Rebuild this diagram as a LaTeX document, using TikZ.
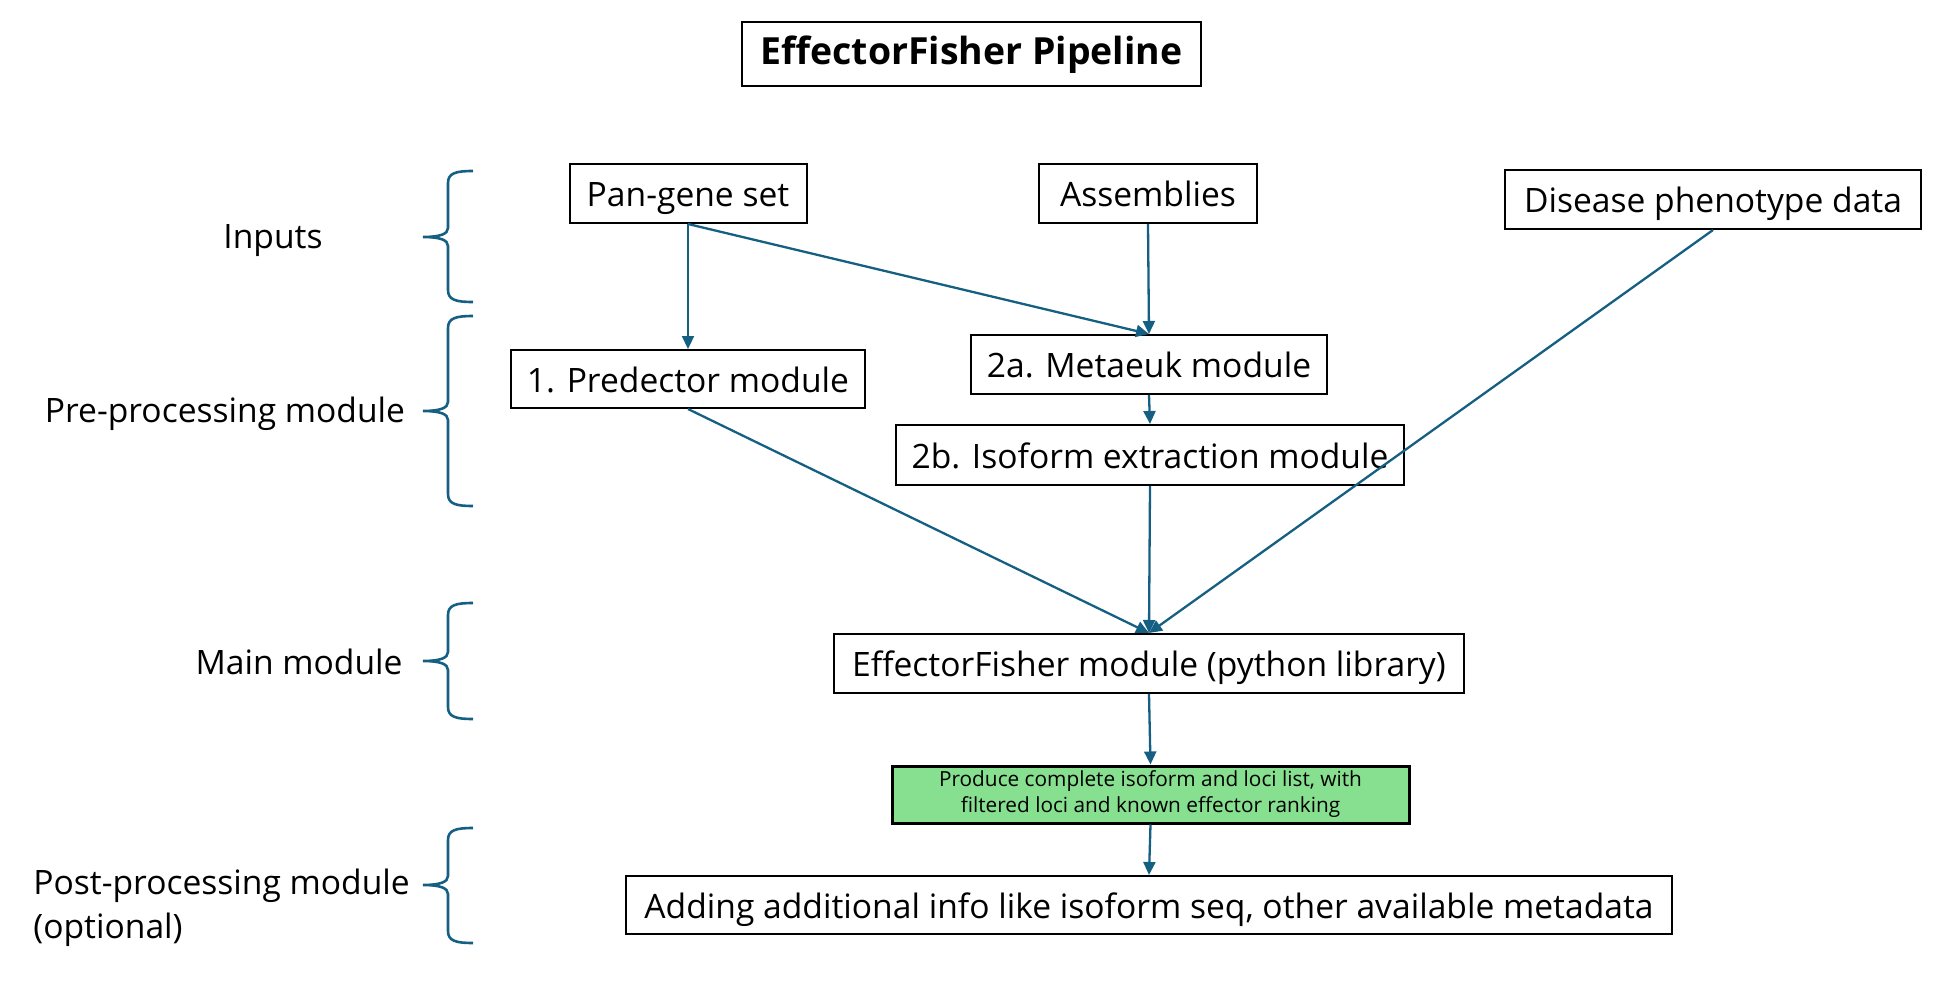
\documentclass[tikz,border=0pt]{standalone}
\usepackage{fontspec}
\setmainfont{Open Sans}
\usetikzlibrary{arrows.meta}
\definecolor{arrowblue}{RGB}{21,96,130}
\definecolor{greenfill}{RGB}{135,224,143}
\tikzset{
  box/.style={draw=black, line width=1pt, fill=white, inner sep=0pt, align=center, text height=14pt, text depth=1pt, font=\fontsize{16.8}{20}\selectfont},
  flow/.style={draw=arrowblue, line width=1.15pt, -{Triangle[length=6.5pt,width=6pt]}},
  bracepath/.style={draw=arrowblue, line width=1.3pt},
  sidelabel/.style={font=\fontsize{16.8}{22}\selectfont, inner sep=0pt}
}
\begin{document}
\begin{tikzpicture}[x=0.5pt,y=-0.5pt]
\useasboundingbox (0,0) rectangle (1945,1006);
% title
\node[box, font=\bfseries\fontsize{18.7}{22}\selectfont, text height=15pt, text depth=4pt, minimum width=229.5pt, minimum height=32pt] (title) at (971.5,54) {EffectorFisher Pipeline};
% boxes
\node[box, minimum width=118.5pt, minimum height=29.5pt] (pan) at (688,193.5) {Pan-gene set};
\node[box, minimum width=109pt, minimum height=29.5pt] (asm) at (1148,193.5) {Assemblies};
\node[box, minimum width=208pt, minimum height=29.5pt] (dis) at (1713,199.5) {Disease phenotype data};
\node[box, minimum width=177pt, minimum height=29pt] (pred) at (688,379) {1. Predector module};
\node[box, minimum width=178pt, minimum height=29.5pt] (meta) at (1149,364.5) {2a. Metaeuk module};
\node[box, minimum width=254pt, minimum height=30pt] (iso) at (1150,455) {2b. Isoform extraction module};
\node[box, minimum width=315pt, minimum height=29.5pt] (ef) at (1149,663.5) {EffectorFisher module (python library)};
\node[box, fill=greenfill, line width=1.5pt, minimum width=258.5pt, minimum height=28.5pt, text height=, text depth=, font=\fontsize{10.4}{13}\selectfont] (green) at (1150.5,794.5) {Produce complete isoform and loci list, with\\filtered loci and known effector ranking};
\node[box, minimum width=523pt, minimum height=29pt] (add) at (1149,905) {Adding additional info like isoform seq, other available metadata};
% connectors
\draw[flow] (pan.south) -- (pred.north);
\draw[flow] (pan.south) -- (meta.north);
\draw[flow] (asm.south) -- (meta.north);
\draw[flow] (meta.south) -- (iso.north);
\draw[flow] (pred.south) -- (ef.north);
\draw[flow] (iso.south) -- (ef.north);
\draw[flow] (dis.south) -- (ef.north);
\draw[flow] (ef.south) -- (green.north);
\draw[flow] (green.south) -- (add.north);
% braces
\foreach \t/\m/\b in {171/237/302, 316/411/506, 603/661/719, 828/885/943}{
  \draw[bracepath] (473,\t) .. controls (456,\t) and (448,\t+2) .. (448,\t+12)
    -- (448,\m-9) .. controls (448,\m-3) and (440,\m) .. (423,\m)
    .. controls (440,\m) and (448,\m+3) .. (448,\m+9)
    -- (448,\b-12) .. controls (448,\b-2) and (456,\b) .. (473,\b);
}
% side labels
\node[sidelabel] (linputs) at (273,240.5) {Inputs};
\node[sidelabel] (lpre) at (225,413.5) {Pre-processing module};
\node[sidelabel] (lmain) at (299,662) {Main module};
\node[sidelabel, anchor=west, align=left] (lpost) at (33,908) {Post-processing module\\(optional)};
\end{tikzpicture}
\end{document}
